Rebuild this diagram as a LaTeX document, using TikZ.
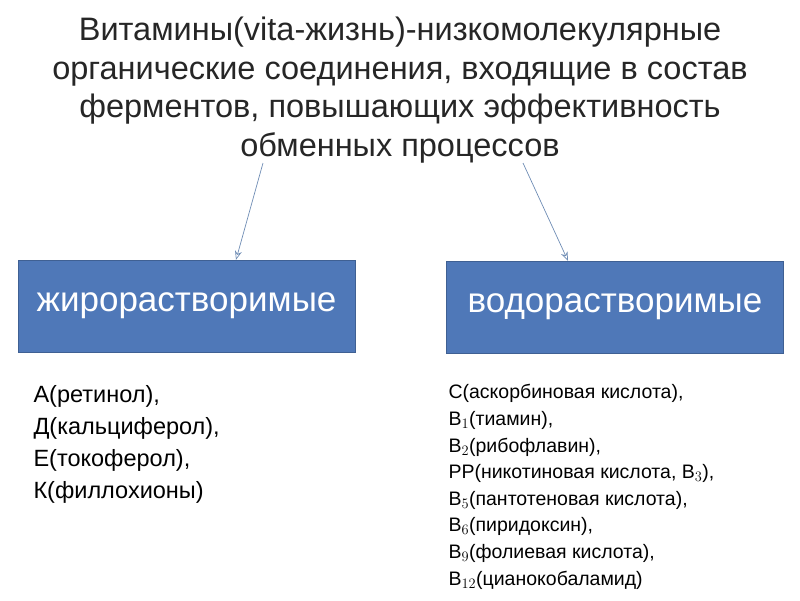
\documentclass[tikz,border=0pt]{standalone}
\usepackage{fontspec}
\setmainfont{Liberation Sans}
\usetikzlibrary{arrows.meta}
\begin{document}
\begin{tikzpicture}[x=1pt,y=-1pt,
  box/.style={fill=boxblue,draw=boxblue!80!black,minimum width=337pt,minimum height=92pt,text=white,font=\fontsize{35}{40}\selectfont},
  arr/.style={draw=arrc,line width=0.7pt,-{Stealth[open,length=9pt,width=7pt]}},
  lst/.style={anchor=north west,align=left}]
\definecolor{boxblue}{RGB}{79,120,184}
\definecolor{arrc}{RGB}{110,140,180}
\useasboundingbox (0,0) rectangle (800,600);
\node[align=center,font=\fontsize{32.5}{38.5}\selectfont,text=black!85] (title) at (400,90)
 {Витамины(vita-жизнь)-низкомолекулярные\\органические соединения, входящие в состав\\ферментов, повышающих эффективность\\обменных процессов};
\node[box] (fat) at (186.5,306) {жирорастворимые};
\node[box] (wat) at (615,307) {водорастворимые};
\coordinate (a1) at (263,163); \coordinate (a2) at (523,163);
\draw[arr] (a1) -- (fat.north -| 236,0);
\draw[arr] (a2) -- (wat.north -| 568,0);
\node[lst,font=\fontsize{23.5}{32}\selectfont] (fl) at (30,382)
 {А(ретинол),\\Д(кальциферол),\\Е(токоферол),\\К(филлохионы)};
\node[lst,font=\fontsize{19.5}{26.6}\selectfont] (wl) at (445,381)
 {С(аскорбиновая кислота),\\В$_1$(тиамин),\\В$_2$(рибофлавин),\\РР(никотиновая кислота, В$_3$),\\В$_5$(пантотеновая кислота),\\В$_6$(пиридоксин),\\В$_9$(фолиевая кислота),\\В$_{12}$(цианокобаламид)};
\end{tikzpicture}
\end{document}
